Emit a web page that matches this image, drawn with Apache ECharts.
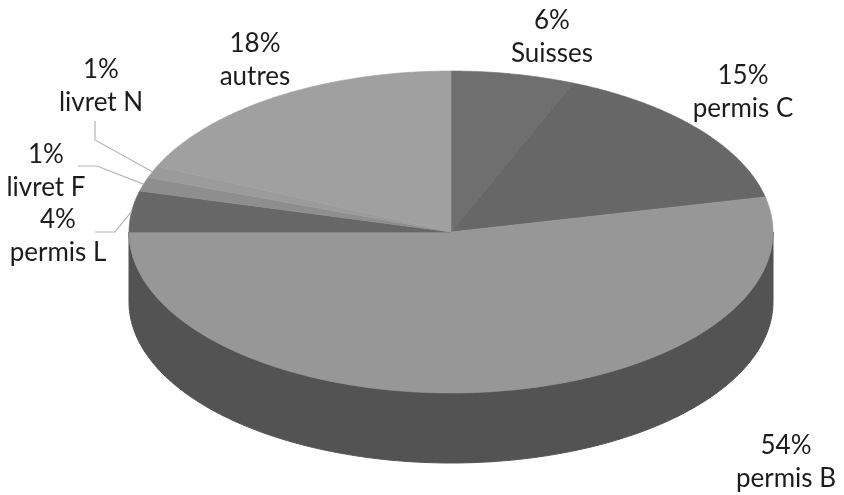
<!DOCTYPE html>
<html><head><meta charset="utf-8">
<style>html,body{margin:0;padding:0;background:#fff}#c{width:844px;height:495px}</style>
<script src="https://cdn.jsdelivr.net/npm/echarts@6/dist/echarts.min.js"></script>
</head><body><div id="c"></div>
<script>
const names = ['Suisses','permis C','permis B','permis L','livret F','livret N','autres'];
const shown = ['6%','15%','54%','4%','1%','1%','18%'];
const values = [6.2,15.3,53.5,4.1,1.4,1.2,18.3];
const colors = ['#6f6f6f','#676767','#979797','#676767','#8e8e8e','#9b9b9b','#a0a0a0'];
const sideColor = '#535353';
const geo = {cx:451, cy:232, rx:322, ry:161, depth:70};
const labelAt = [[552,37],[743,92],[786,462],[58,236],[46,171],[101,86],[255,60]];
const leaders = [null,null,null,[[115,232],[95,232]],[[97,166],[78,166]],[[95,140],[95,121]],null];
const total = values.reduce((a,b)=>a+b,0);
const pt = (a,dy=0)=>[geo.cx+geo.rx*Math.sin(a), geo.cy-geo.ry*Math.cos(a)+dy];
const arc = (a,b,dy=0)=>{const n=Math.max(2,Math.ceil((b-a)/0.01)),o=[];for(let i=0;i<=n;i++)o.push(pt(a+(b-a)*i/n,dy));return o;};
const startOf = i=>values.slice(0,i).reduce((s,v)=>s+v,0)/total*2*Math.PI;
function renderSide(p,api){
  const i=p.dataIndex,a=startOf(i),b=a+api.value(0)/total*2*Math.PI;
  const s=Math.max(a,Math.PI/2),e=Math.min(b,1.5*Math.PI);
  if(e<=s)return {type:'group',children:[]};
  const pts=arc(s,e).concat(arc(s,e,geo.depth).reverse());
  return {type:'polygon',shape:{points:pts},style:{fill:sideColor,stroke:sideColor,lineWidth:1}};
}
function renderTop(p,api){
  const i=p.dataIndex,a=startOf(i),b=a+api.value(0)/total*2*Math.PI;
  return {type:'polygon',shape:{points:[[geo.cx,geo.cy]].concat(arc(a,b))},style:{fill:colors[i],stroke:colors[i],lineWidth:0.6}};
}
function renderLabel(p,api){
  const i=p.dataIndex,a=startOf(i),b=a+api.value(0)/total*2*Math.PI,kids=[];
  if(leaders[i]){
    kids.push({type:'polyline',shape:{points:[pt((a+b)/2)].concat(leaders[i])},style:{stroke:'#b5b5b5',lineWidth:1.2,fill:null}});
  }
  kids.push({type:'text',x:labelAt[i][0],y:labelAt[i][1],style:{text:shown[i]+'\n'+names[i],fill:'#1c1c1c',font:'26px Lato',lineHeight:33,align:'center',verticalAlign:'middle'}});
  return {type:'group',children:kids};
}
const data=values.map(v=>[v]);
const common={type:'custom',coordinateSystem:'none',silent:true,animation:false,data};
echarts.init(document.getElementById('c'),null,{renderer:'canvas'}).setOption({
  backgroundColor:'#fff',animation:false,
  series:[{...common,renderItem:renderSide,z:1},{...common,renderItem:renderTop,z:2},{...common,renderItem:renderLabel,z:3}]
});
</script></body></html>
